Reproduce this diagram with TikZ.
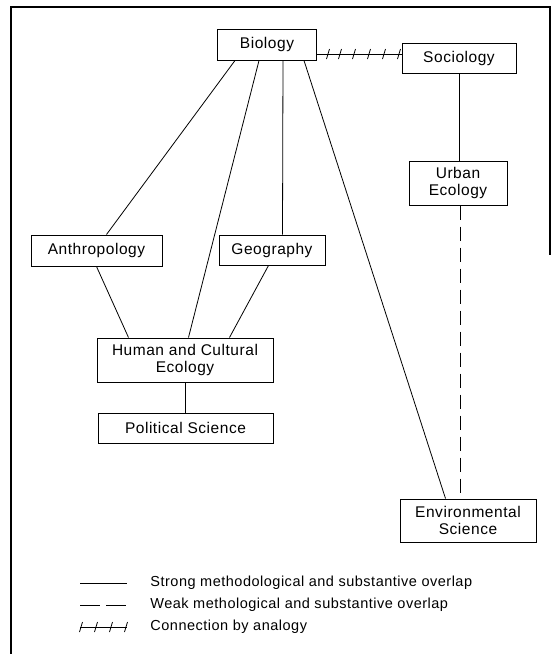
\documentclass[tikz,border=0pt]{standalone}
\usepackage{fontspec}
\setmainfont[LetterSpace=3.5]{Liberation Sans}
\usetikzlibrary{calc}
\tikzset{
  box/.style={draw,line width=1pt,minimum height=31pt,inner sep=0pt,align=center,
    font=\fontsize{15.5}{17.5}\selectfont},
  weak/.style={dash pattern=on 14pt off 7pt},
  legend/.style={anchor=west,inner sep=0pt,font=\fontsize{14.5}{16}\selectfont}
}
\begin{document}
\begin{tikzpicture}[x=1pt,y=-1pt,line width=0.8pt]
  \useasboundingbox (0,0) rectangle (551,654);
  \draw[line width=1.4pt] (11,654) -- (11,7) -- (550,7) -- (550,255);

  \node[box,minimum width=99pt] (bio) at (267,44.5) {Biology};
  \node[box,minimum width=114pt,minimum height=30pt] (soc) at (459,58) {Sociology};
  \node[box,minimum width=98pt,minimum height=44pt] (urb) at (458,183) {Urban\\Ecology};
  \node[box,minimum width=131pt] (ant) at (96.5,250.5) {Anthropology};
  \node[box,minimum width=106pt,minimum height=30pt] (geo) at (272,250) {Geography};
  \node[box,minimum width=176pt,minimum height=44pt] (hce) at (185,360) {Human and Cultural\\Ecology};
  \node[box,minimum width=175pt,minimum height=30pt] (pol) at (185.5,428) {Political Science};
  \node[box,minimum width=136pt,minimum height=43pt] (env) at (468,520.5) {Environmental\\Science};

  \draw ($(bio.south west)+(18,0)$) -- ($(ant.north west)+(76,0)$);
  \draw ($(bio.south west)+(42,0)$) -- ($(hce.north west)+(92,0)$);
  \draw ($(bio.south west)+(66,0)$) -- ($(geo.north west)+(64,0)$);
  \draw ($(bio.south west)+(87,0)$) -- ($(env.north west)+(46,0)$);
  \draw ($(ant.south west)+(66,0)$) -- ($(hce.north west)+(32,0)$);
  \draw ($(geo.south west)+(50,0)$) -- ($(hce.north west)+(133,0)$);
  \draw (hce.south) -- (hce.south |- pol.north);
  \draw (soc.south) -- (soc.south |- urb.north);
  \draw[weak] ($(urb.south west)+(52,0)$) -- ($(env.north west)+(61,0)$);
  \draw ($(bio.east)+(0,9.5)$) -- ($(soc.west)+(0,-4)$);
  \foreach \t in {11,23,37,52,67,82}
    \draw ($(bio.east)+(\t,9.5)$) ++(-1.5,5) -- ++(3,-10);

  \draw (80,583) -- (127,583);
  \node[legend] (strong) at (150,583) {Strong methodological and substantive overlap};
  \draw[dash pattern=on 20pt off 6pt] (80,605) -- (127,605);
  \node[legend] (weak) at (150,605) {Weak methological and substantive overlap};
  \draw (80,627) -- (127,627);
  \foreach \t in {81,96,111,126}
    \draw (\t,627) ++(-1.5,5) -- ++(3,-10);
  \node[legend] (analogy) at (150,627) {Connection by analogy};
\end{tikzpicture}
\end{document}
